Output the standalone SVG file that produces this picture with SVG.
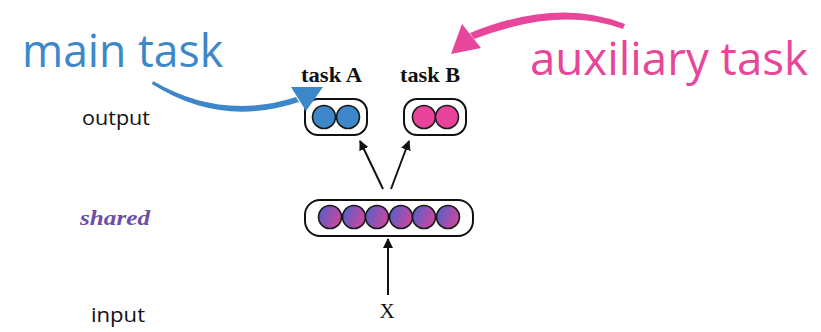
<svg xmlns="http://www.w3.org/2000/svg" width="821" height="332" viewBox="0 0 821 332">
<style>
.box{fill:#fff;stroke:#111;stroke-width:2}
.unit{stroke:#1a1a1a;stroke-width:1.6}
.blue{fill:#3d86c8}
.pink{fill:#e8449b}
.mix{fill:url(#g)}
.lbl{font-family:"Open Sans","Liberation Sans",sans-serif;font-size:20px;fill:#111}
.task{font-family:"Liberation Serif","DejaVu Serif",serif;font-weight:bold;font-size:21px;fill:#111}
.big{font-family:"Open Sans","Liberation Sans",sans-serif;font-size:45px}
.edge{stroke:#111;stroke-width:2;fill:none;marker-end:url(#ah)}
</style>
<defs>
<linearGradient id="g" x1="0" y1="0.3" x2="1" y2="0.7">
<stop offset="0" stop-color="#5560c8"/>
<stop offset="1" stop-color="#d4449a"/>
</linearGradient>
<marker id="ah" viewBox="0 0 10 10" refX="9" refY="5" markerWidth="5" markerHeight="5" orient="auto" markerUnits="strokeWidth">
<path d="M0,0 L10,5 L0,10 Z" fill="#111"/>
</marker>
</defs>

<g id="label-main">
<text class="big" x="22" y="67" fill="#3d88c8" textLength="201" lengthAdjust="spacingAndGlyphs">main task</text>
</g>
<g id="label-aux">
<text class="big" x="530" y="75" fill="#e8469b" font-size="42" textLength="278" lengthAdjust="spacingAndGlyphs">auxiliary task</text>
</g>

<g id="row-labels">
<text class="lbl" x="116" y="125" text-anchor="middle" textLength="68" lengthAdjust="spacingAndGlyphs">output</text>
<text x="115" y="225" text-anchor="middle" font-family="Liberation Serif, DejaVu Serif, serif" font-weight="bold" font-style="italic" font-size="21" fill="#6f4ea5" textLength="70" lengthAdjust="spacingAndGlyphs">shared</text>
<text class="lbl" x="118" y="322" text-anchor="middle" textLength="54" lengthAdjust="spacingAndGlyphs">input</text>
</g>

<g id="taskA">
<text class="task" x="301" y="82" textLength="61" lengthAdjust="spacingAndGlyphs">task A</text>
<rect class="box" x="305" y="99" width="62" height="36" rx="13"/>
<circle class="unit blue" cx="324" cy="117" r="11.5"/>
<circle class="unit blue" cx="348" cy="117" r="11.5"/>
</g>

<g id="taskB">
<text class="task" x="400" y="82" textLength="60" lengthAdjust="spacingAndGlyphs">task B</text>
<rect class="box" x="404" y="99" width="62" height="36" rx="13"/>
<circle class="unit pink" cx="424" cy="117" r="11.5"/>
<circle class="unit pink" cx="447" cy="117" r="11.5"/>
</g>

<g id="shared">
<rect class="box" x="305" y="200" width="168" height="36" rx="15"/>
<circle class="unit mix" cx="330" cy="217" r="11.5"/>
<circle class="unit mix" cx="354" cy="217" r="11.5"/>
<circle class="unit mix" cx="377" cy="217" r="11.5"/>
<circle class="unit mix" cx="401" cy="217" r="11.5"/>
<circle class="unit mix" cx="424" cy="217" r="11.5"/>
<circle class="unit mix" cx="448" cy="217" r="11.5"/>
</g>

<g id="input">
<text x="387" y="318" text-anchor="middle" font-family="Liberation Serif, DejaVu Serif, serif" font-size="21" fill="#111">X</text>
</g>

<g id="connectors">
<line class="edge" x1="383" y1="189" x2="360" y2="141"/>
<line class="edge" x1="391" y1="189" x2="409" y2="141"/>
<line class="edge" x1="388" y1="295" x2="388" y2="239"/>
<path d="M153,81 Q222,121 296,97 L299,102 Q221,128 152,84 Z" fill="#3b87c9"/>
<polygon points="291,87 323,87 306,111" fill="#3b87c9"/>
<path d="M625,24 Q558,-3 470,33 L474,39 Q560,6 623,29 Z" fill="#e8469b"/>
<polygon points="462,24 451,54 481,48" fill="#e8469b"/>
</g>
</svg>
